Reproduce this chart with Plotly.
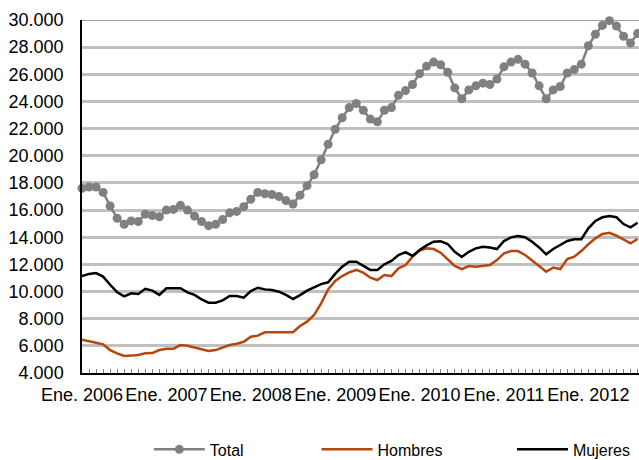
import plotly.graph_objects as go

months = list(range(80))  # Ene. 2006 .. Ago. 2012 (month index)
year_tick_pos = [0, 12, 24, 36, 48, 60, 72]
year_labels = ["Ene. 2006", "Ene. 2007", "Ene. 2008", "Ene. 2009",
               "Ene. 2010", "Ene. 2011", "Ene. 2012"]

total = [17600, 17700, 17700, 17300, 16300, 15400, 14950, 15200, 15150, 15700,
         15600, 15500, 16000, 16050, 16350, 16000, 15550, 15150, 14850, 14950,
         15300, 15800, 15900, 16250, 16800, 17300, 17200, 17150, 17000, 16700,
         16450, 17100, 17800, 18600, 19700, 20850, 21950, 22800, 23550, 23850,
         23350, 22700, 22500, 23350, 23550, 24450, 24800, 25250, 26050, 26600,
         26900, 26700, 26150, 25000, 24200, 24850, 25150, 25350, 25250, 25650,
         26550, 26900, 27100, 26750, 26100, 25150, 24200, 24850, 25100, 26100,
         26350, 26750, 28100, 28950, 29600, 29950, 29550, 28800, 28300, 29000]

hombres = [6450, 6360, 6230, 6110, 5690, 5450, 5250, 5280, 5330, 5450,
           5470, 5690, 5790, 5790, 6060, 6010, 5890, 5740, 5620, 5690,
           5860, 6060, 6160, 6300, 6670, 6750, 7000, 7000, 7000, 6970,
           7000, 7460, 7780, 8270, 9130, 10150, 10780, 11140, 11410, 11590,
           11390, 11020, 10850, 11220, 11140, 11710, 11950, 12570, 13010, 13180,
           13130, 12860, 12370, 11880, 11650, 11880, 11830, 11900, 11950, 12320,
           12810, 12980, 12980, 12690, 12250, 11880, 11460, 11760, 11660, 12400,
           12570, 12980, 13480, 13920, 14240, 14330, 14110, 13800, 13550, 13870]

mujeres = [11140, 11300, 11360, 11100, 10500, 9950, 9650, 9870, 9820, 10200,
           10070, 9750, 10240, 10240, 10240, 9940, 9750, 9430, 9180, 9180,
           9350, 9670, 9670, 9550, 10040, 10280, 10160, 10110, 9990, 9750,
           9450, 9740, 10060, 10300, 10550, 10680, 11300, 11830, 12200, 12200,
           11880, 11590, 11590, 12000, 12250, 12690, 12900, 12620, 13060, 13400,
           13670, 13700, 13500, 12930, 12550, 12930, 13180, 13300, 13250, 13130,
           13720, 13990, 14090, 14000, 13670, 13250, 12740, 13130, 13430, 13720,
           13850, 13850, 14660, 15200, 15470, 15560, 15470, 14970, 14730, 15070]

FONT = "Liberation Sans, Arial, sans-serif"

fig = go.Figure()
fig.add_trace(go.Scatter(x=months, y=total, name="Total", mode="lines+markers",
                         line=dict(color="#808080", width=2.5),
                         marker=dict(color="#808080", size=9),
                         cliponaxis=False, legend="legend4"))
fig.add_trace(go.Scatter(x=months, y=hombres, name="Hombres", mode="lines",
                         line=dict(color="#B5470E", width=2.5),
                         legend="legend2"))
fig.add_trace(go.Scatter(x=months, y=mujeres, name="Mujeres", mode="lines",
                         line=dict(color="#000000", width=2.5),
                         legend="legend3"))

leg_common = dict(orientation="h", yanchor="middle", xanchor="left",
                  yref="container", y=0.023,
                  font=dict(family=FONT, size=16, color="#000000"),
                  bgcolor="rgba(0,0,0,0)", itemwidth=51)

fig.update_layout(
    width=639, height=460,
    margin=dict(l=82, r=0, t=20, b=87, autoexpand=False),
    paper_bgcolor="white", plot_bgcolor="white",
    separators=",.",
    font=dict(family=FONT, size=18, color="#000000"),
    legend4=dict(leg_common, x=0.120),
    legend2=dict(leg_common, x=0.421),
    legend3=dict(leg_common, x=0.772),
    xaxis=dict(range=[0, 79.2], tickvals=year_tick_pos, ticktext=year_labels,
               ticks="inside", ticklen=4, tickcolor="#808080", tickwidth=1,
               minor=dict(dtick=1, ticks="inside", ticklen=4, tickcolor="#808080", tickwidth=1),
               showline=True, linecolor="#000000", linewidth=1.5,
               showgrid=False, zeroline=False, ticklabelstandoff=5,
               tickfont=dict(family=FONT, size=18, color="#000000")),
    yaxis=dict(range=[4000, 30000], dtick=2000, tickformat=",d",
               showline=True, linecolor="#000000", linewidth=1.5,
               showgrid=True, gridcolor="#C0C0C0", gridwidth=2.5,
               zeroline=False, ticks="", ticklabelstandoff=13,
               tickfont=dict(family=FONT, size=18, color="#000000")),
    shapes=[dict(type="line", xref="paper", yref="y", x0=0, x1=1, y0=30000, y1=30000,
                 line=dict(color="#808080", width=1.5))],
)

fig.write_html("out.html", config={"displayModeBar": False},
               post_script="document.body.style.margin='0';document.body.style.overflow='hidden';")
